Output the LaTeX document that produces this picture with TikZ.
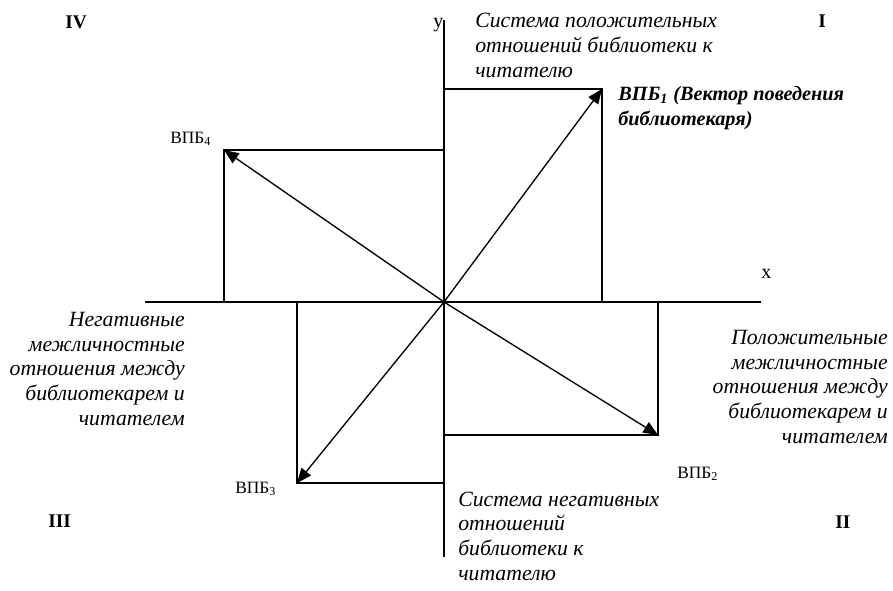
\documentclass[tikz,border=0pt]{standalone}
\usepackage{fontspec}
\setmainfont{Liberation Serif}
\usetikzlibrary{arrows.meta}
\tikzset{
  axis/.style={line width=1pt},
  frame/.style={line width=1pt},
  vec/.style={line width=1pt,-{Triangle[length=11pt,width=9pt]}},
  desc/.style={inner sep=0pt,font=\fontsize{16.3pt}{18.5pt}\selectfont\itshape},
  descb/.style={desc,font=\fontsize{15.2pt}{18.5pt}\selectfont\bfseries\itshape},
  vlab/.style={inner sep=0pt,font=\fontsize{13pt}{14pt}\selectfont},
  quad/.style={inner sep=0pt,font=\fontsize{14.5pt}{16pt}\selectfont\bfseries},
  axlab/.style={inner sep=0pt,font=\fontsize{15pt}{16pt}\selectfont},
}
\begin{document}
\begin{tikzpicture}[x=0.75pt,y=-0.75pt]
\useasboundingbox (0,0) rectangle (893,590);
% axes
\coordinate (O) at (444,302);
\coordinate (xl) at (145,302);
\coordinate (xr) at (761,302);
\coordinate (yt) at (444,20);
\coordinate (yb) at (444,557);
\draw[axis] (xl) -- (xr);
\draw[axis] (yt) -- (yb);
% vector ends
\coordinate (A1) at (602,89);
\coordinate (A2) at (658,435);
\coordinate (A3) at (297,483);
\coordinate (A4) at (224,150);
% frames
\draw[frame] (O |- A1) -- (A1) -- (A1 |- O);
\draw[frame] (O |- A2) -- (A2) -- (A2 |- O);
\draw[frame] (O |- A3) -- (A3) -- (A3 |- O);
\draw[frame] (O |- A4) -- (A4) -- (A4 |- O);
% vectors
\draw[vec] (O) -- (A1);
\draw[vec] (O) -- (A2);
\draw[vec] (O) -- (A3);
\draw[vec] (O) -- (A4);
% axis labels
\node[axlab,anchor=base west] (xlab) at (761,278) {x};
\node[axlab,anchor=base west] (ylab) at (433,27) {y};
% quadrant labels
\node[quad,anchor=base west] (q4) at (65,28) {IV};
\node[quad,anchor=base west] (q1) at (818,27) {I};
\node[quad,anchor=base west] (q3) at (48,527) {III};
\node[quad,anchor=base west] (q2) at (835,528) {II};
% descriptions (base = baseline of the last line)
\node[desc,anchor=base west,align=left] (top) at (475,77)
  {Система положительных\\отношений библиотеки к\\читателю};
\node[descb,anchor=base west,align=left] (v1) at (618,125)
  {ВПБ\textsubscript{\itshape 1} (Вектор поведения\\библиотекаря)};
\node[desc,anchor=base east,align=right] (left) at (185,425)
  {Негативные\\межличностные\\отношения между\\библиотекарем и\\читателем};
\node[desc,anchor=base east,align=right] (right) at (888,443)
  {Положительные\\межличностные\\отношения между\\библиотекарем и\\читателем};
\node[desc,anchor=base west,align=left] (bottom) at (458,580)
  {Система негативных\\отношений\\библиотеки к\\читателю};
% vector labels
\node[vlab,anchor=base west] (v4) at (170,143) {ВПБ\textsubscript{4}};
\node[vlab,anchor=base west] (v3) at (235,493) {ВПБ\textsubscript{3}};
\node[vlab,anchor=base west] (v2) at (677,478) {ВПБ\textsubscript{2}};
\end{tikzpicture}
\end{document}
